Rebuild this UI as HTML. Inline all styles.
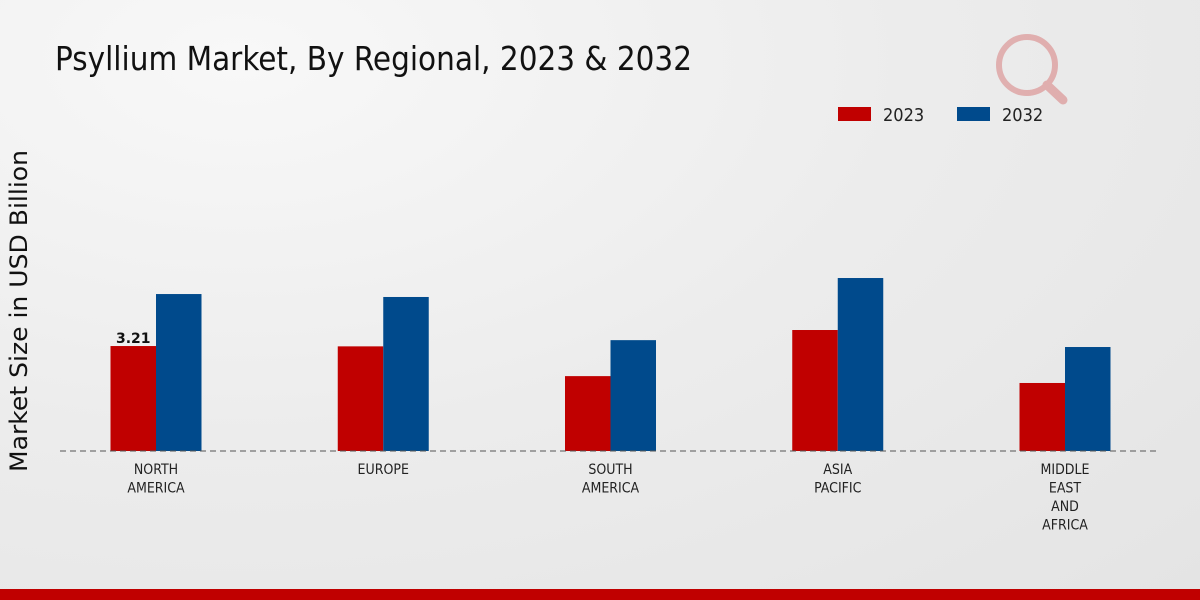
<!DOCTYPE html>
<html><head><meta charset="utf-8"><style>
body{margin:0;width:1200px;height:600px;overflow:hidden;background:radial-gradient(ellipse at 20% 10%,#f8f8f8 0%,#ececec 50%,#e4e4e4 100%);font-family:"Liberation Sans Narrow","DejaVu Sans Condensed","Liberation Sans",sans-serif;}
svg{position:absolute;left:0;top:0}
</style></head><body>
<svg width="1200" height="600">
<text x="55" y="70" font-size="33" textLength="637" lengthAdjust="spacingAndGlyphs" fill="#111" style="font-family:'Liberation Sans Narrow','DejaVu Sans Condensed',sans-serif">Psyllium Market, By Regional, 2023 &amp; 2032</text>
<g>
<rect x="838" y="107" width="33" height="14" fill="#c00000"/>
<text x="883" y="121" font-size="18" fill="#222">2023</text>
<rect x="957" y="107" width="33" height="14" fill="#004a8c"/>
<text x="1002" y="121" font-size="18" fill="#222">2032</text>
</g>
<text transform="translate(27,311) rotate(-90)" text-anchor="middle" font-size="24" textLength="322" lengthAdjust="spacingAndGlyphs" fill="#111" style="font-family:'DejaVu Sans',sans-serif">Market Size in USD Billion</text>
<g id="bars"></g>
<line x1="60" y1="451" x2="1160" y2="451" stroke="#555" stroke-dasharray="6,4"/>
<g id="labels"></g>
<g opacity="0.25">
<circle cx="1027" cy="65" r="28" fill="none" stroke="#c00000" stroke-width="6"/>
<line x1="1047" y1="85" x2="1063" y2="100" stroke="#c00000" stroke-width="9" stroke-linecap="round"/>
</g>
<rect x="0" y="589" width="1200" height="11" fill="#c00000"/>
</svg>
<script>
const categories=[["NORTH","AMERICA"],["EUROPE"],["SOUTH","AMERICA"],["ASIA","PACIFIC"],["MIDDLE","EAST","AND","AFRICA"]];
const values2023=[3.21,3.2,2.29,3.7,2.08];
const values2032=[4.8,4.71,3.39,5.29,3.18];
const ns="http://www.w3.org/2000/svg";
const base=451,scale=32.7,x0=156,step=227.25,bw=45.5;
const yv=v=>base-v*scale;
const xc=i=>x0+i*step;
const gb=document.getElementById('bars'),gl=document.getElementById('labels');
function mk(t,a,p){const e=document.createElementNS(ns,t);for(const k in a)e.setAttribute(k,a[k]);p.appendChild(e);return e;}
categories.forEach((c,i)=>{
 const r=mk('rect',{x:xc(i)-bw,y:yv(values2023[i]),width:bw,height:values2023[i]*scale,fill:'#c00000'},gb);
 
 
 const b=mk('rect',{x:xc(i),y:yv(values2032[i]),width:bw,height:values2032[i]*scale,fill:'#004a8c'},gb);
 
 
 const t=mk('text',{x:xc(i),'text-anchor':'middle','font-size':14,fill:'#222'},gl);
 
 
 c.forEach((w,j)=>{const s=mk('tspan',{x:xc(i),y:474+j*18.5},t);s.textContent=w;});
});
const v=mk('text',{x:xc(0)-bw/2,y:yv(values2023[0])-3,'text-anchor':'middle','font-size':14,'font-weight':'bold',fill:'#111'},gl);


v.style.fontFamily="'DejaVu Sans',sans-serif";
v.textContent=values2023[0].toFixed(2);
</script>
</body></html>
